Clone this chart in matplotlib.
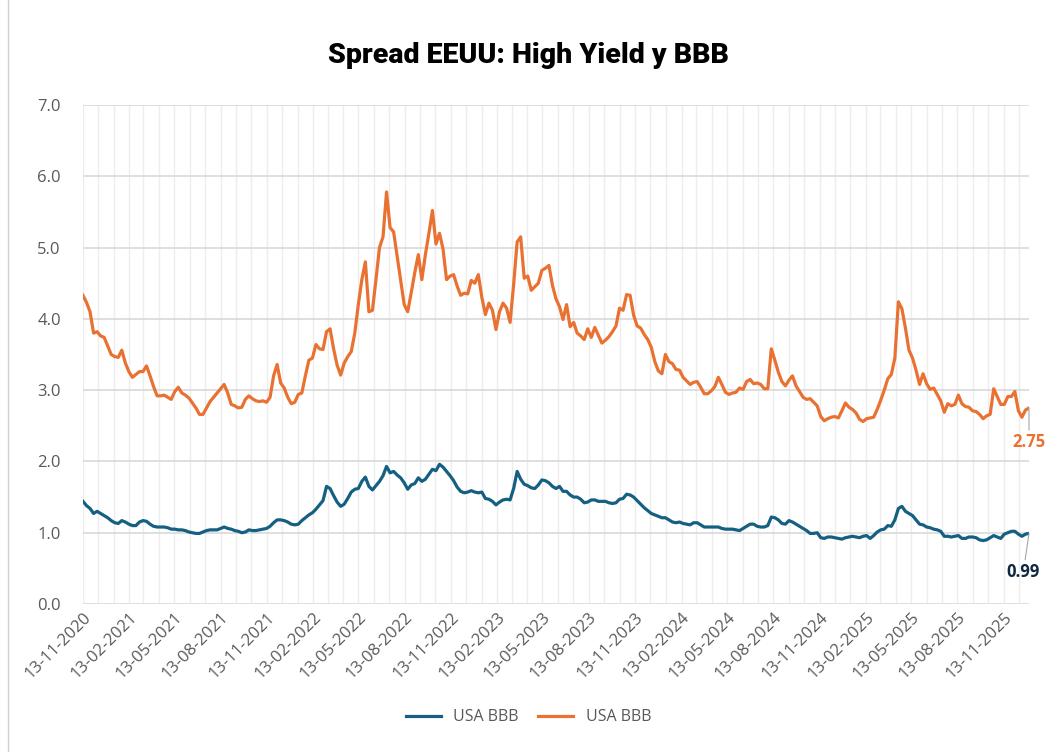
import matplotlib
matplotlib.use("Agg")
import matplotlib.pyplot as plt
import matplotlib.dates as mdates
from matplotlib.lines import Line2D
import pandas as pd

# weekly observations (Fridays), 13-11-2020 .. 02-01-2026
start_date = "2020-11-13"
n_weeks = 269

hy_spread = [
    4.33, 4.23, 4.10, 3.80, 3.82, 3.76, 3.74, 3.62, 3.50, 3.47,
    3.46, 3.56, 3.38, 3.26, 3.18, 3.22, 3.26, 3.26, 3.34, 3.20,
    3.05, 2.92, 2.92, 2.93, 2.90, 2.87, 2.98, 3.04, 2.96, 2.93,
    2.89, 2.82, 2.75, 2.66, 2.66, 2.75, 2.84, 2.90, 2.96, 3.02,
    3.08, 2.96, 2.80, 2.78, 2.75, 2.76, 2.87, 2.92, 2.88, 2.85,
    2.84, 2.85, 2.83, 2.90, 3.20, 3.36, 3.10, 3.03, 2.90, 2.81,
    2.83, 2.94, 2.96, 3.20, 3.42, 3.45, 3.64, 3.58, 3.57, 3.82,
    3.86, 3.58, 3.35, 3.21, 3.38, 3.47, 3.54, 3.80, 4.20, 4.55,
    4.80, 4.10, 4.12, 4.55, 5.00, 5.15, 5.78, 5.28, 5.22, 4.88,
    4.55, 4.20, 4.10, 4.37, 4.65, 4.90, 4.55, 4.90, 5.20, 5.52,
    5.05, 5.20, 4.98, 4.55, 4.60, 4.62, 4.46, 4.33, 4.36, 4.35,
    4.54, 4.50, 4.62, 4.30, 4.06, 4.22, 4.12, 3.85, 4.10, 4.22,
    4.15, 3.95, 4.48, 5.08, 5.15, 4.57, 4.60, 4.40, 4.45, 4.50,
    4.68, 4.71, 4.75, 4.47, 4.28, 4.17, 3.99, 4.20, 3.89, 3.95,
    3.80, 3.76, 3.71, 3.86, 3.74, 3.88, 3.77, 3.66, 3.70, 3.75,
    3.82, 3.90, 4.15, 4.12, 4.34, 4.33, 4.05, 3.90, 3.87, 3.78,
    3.71, 3.60, 3.40, 3.27, 3.23, 3.50, 3.40, 3.37, 3.29, 3.28,
    3.18, 3.13, 3.08, 3.11, 3.12, 3.04, 2.95, 2.95, 2.99, 3.05,
    3.18, 3.08, 2.97, 2.94, 2.96, 2.97, 3.03, 3.01, 3.12, 3.15,
    3.09, 3.10, 3.08, 3.02, 3.02, 3.58, 3.42, 3.25, 3.12, 3.06,
    3.14, 3.20, 3.06, 2.98, 2.90, 2.87, 2.88, 2.83, 2.78, 2.63,
    2.57, 2.60, 2.62, 2.63, 2.61, 2.71, 2.82, 2.76, 2.73, 2.68,
    2.59, 2.56, 2.60, 2.61, 2.62, 2.73, 2.86, 3.00, 3.16, 3.22,
    3.45, 4.24, 4.14, 3.87, 3.56, 3.45, 3.28, 3.08, 3.23, 3.09,
    3.01, 3.03, 2.94, 2.85, 2.69, 2.81, 2.78, 2.80, 2.93, 2.81,
    2.77, 2.76, 2.71, 2.70, 2.66, 2.60, 2.64, 2.66, 3.02, 2.91,
    2.80, 2.80, 2.91, 2.91, 2.98, 2.71, 2.62, 2.72, 2.75,
]

bbb_spread = [
    1.44, 1.38, 1.34, 1.27, 1.30, 1.27, 1.24, 1.21, 1.17, 1.14,
    1.13, 1.17, 1.15, 1.12, 1.10, 1.10, 1.15, 1.17, 1.16, 1.12,
    1.09, 1.08, 1.08, 1.08, 1.07, 1.05, 1.05, 1.04, 1.04, 1.03,
    1.01, 1.00, 0.99, 0.99, 1.01, 1.03, 1.04, 1.04, 1.04, 1.06,
    1.08, 1.06, 1.05, 1.03, 1.02, 1.00, 1.01, 1.04, 1.03, 1.03,
    1.04, 1.05, 1.06, 1.09, 1.14, 1.18, 1.18, 1.17, 1.15, 1.12,
    1.11, 1.12, 1.17, 1.21, 1.25, 1.28, 1.33, 1.39, 1.45, 1.65,
    1.62, 1.52, 1.43, 1.37, 1.40, 1.48, 1.57, 1.61, 1.62, 1.72,
    1.78, 1.65, 1.60, 1.66, 1.72, 1.80, 1.93, 1.84, 1.86, 1.81,
    1.77, 1.70, 1.61, 1.67, 1.69, 1.77, 1.72, 1.75, 1.82, 1.89,
    1.87, 1.96, 1.92, 1.86, 1.80, 1.73, 1.64, 1.58, 1.56, 1.57,
    1.59, 1.57, 1.56, 1.57, 1.48, 1.47, 1.44, 1.39, 1.43, 1.46,
    1.47, 1.46, 1.62, 1.86, 1.75, 1.68, 1.66, 1.63, 1.62, 1.67,
    1.74, 1.73, 1.70, 1.65, 1.62, 1.65, 1.58, 1.58, 1.53, 1.50,
    1.50, 1.47, 1.42, 1.43, 1.46, 1.46, 1.44, 1.44, 1.44, 1.42,
    1.41, 1.42, 1.47, 1.48, 1.54, 1.53, 1.50, 1.45, 1.40, 1.35,
    1.31, 1.27, 1.25, 1.23, 1.21, 1.21, 1.18, 1.15, 1.14, 1.15,
    1.13, 1.12, 1.11, 1.14, 1.14, 1.11, 1.08, 1.08, 1.08, 1.08,
    1.08, 1.06, 1.05, 1.05, 1.05, 1.04, 1.03, 1.06, 1.09, 1.12,
    1.12, 1.09, 1.08, 1.08, 1.10, 1.22, 1.21, 1.18, 1.13, 1.12,
    1.17, 1.15, 1.12, 1.09, 1.06, 1.03, 0.99, 0.99, 1.00, 0.93,
    0.92, 0.94, 0.94, 0.93, 0.92, 0.91, 0.93, 0.94, 0.95, 0.94,
    0.93, 0.95, 0.96, 0.92, 0.96, 1.01, 1.04, 1.05, 1.10, 1.09,
    1.18, 1.34, 1.37, 1.30, 1.27, 1.24, 1.18, 1.12, 1.11, 1.08,
    1.07, 1.05, 1.04, 1.02, 0.95, 0.95, 0.94, 0.95, 0.96, 0.92,
    0.92, 0.94, 0.94, 0.93, 0.90, 0.89, 0.90, 0.93, 0.96, 0.94,
    0.92, 0.98, 1.00, 1.02, 1.02, 0.98, 0.95, 0.98, 0.99,
]

series_labels = ["USA BBB", "USA BBB"]
title = "Spread EEUU: High Yield y BBB"

BLUE = "#156082"
ORANGE = "#E97132"
NAVY = "#0E2841"
GREY_TXT = "#595959"

dates = pd.date_range(start_date, periods=n_weeks, freq="7D")

plt.rcParams["font.family"] = ["Open Sans", "DejaVu Sans"]

fig = plt.figure(figsize=(10.57, 7.52), dpi=100)
ax = fig.add_axes([0.0785, 0.1968, 0.8950, 0.6636])

ax.plot(dates, bbb_spread, color=BLUE, lw=2.3, label=series_labels[0], solid_joinstyle="round")
ax.plot(dates, hy_spread, color=ORANGE, lw=2.3, label=series_labels[1], solid_joinstyle="round")

ax.set_xlim(dates[0], dates[-1])
ax.set_ylim(0, 7)
ax.set_yticks(range(0, 8))
ax.yaxis.set_major_formatter(plt.FuncFormatter(lambda v, _: f"{v:.1f}"))

ax.xaxis.set_major_locator(mdates.MonthLocator(bymonth=[2, 5, 8, 11], bymonthday=13))
ax.xaxis.set_minor_locator(mdates.MonthLocator(bymonthday=13))
ax.xaxis.set_major_formatter(mdates.DateFormatter("%d-%m-%Y"))

ax.grid(axis="y", which="major", color="#d9d9d9", lw=1.2)
ax.grid(axis="x", which="both", color="#ededed", lw=1.0)
ax.set_axisbelow(True)
for s in ax.spines.values():
    s.set_visible(False)
ax.tick_params(which="both", length=0)
ax.tick_params(axis="y", labelsize=12, labelcolor=GREY_TXT, pad=16)
ax.tick_params(axis="x", labelsize=12, labelcolor=GREY_TXT, pad=4)
for lab in ax.get_xticklabels():
    lab.set_rotation(45)
    lab.set_ha("right")
    lab.set_rotation_mode("anchor")

ax.annotate(f"{hy_spread[-1]:.2f}", xy=(dates[-1], hy_spread[-1]), xytext=(0, -18),
            textcoords="offset points", ha="center", va="top", color=ORANGE,
            fontsize=12, fontweight="bold", annotation_clip=False,
            arrowprops=dict(arrowstyle="-", color="#a6a6a6", lw=0.8, shrinkA=0, shrinkB=0))
ax.annotate(f"{bbb_spread[-1]:.2f}", xy=(dates[-1], bbb_spread[-1]), xytext=(-4, -21),
            textcoords="offset points", ha="center", va="top", color=NAVY,
            fontsize=12, fontweight="bold", annotation_clip=False,
            arrowprops=dict(arrowstyle="-", color="#a6a6a6", lw=0.8, shrinkA=0, shrinkB=0))

fig.text(0.5, 0.926, title, ha="center", va="center", fontsize=20.5, fontweight="heavy",
         family=["Roboto", "DejaVu Sans"], color="black")

fig.legend(loc="center", bbox_to_anchor=(0.5, 0.046), ncol=2, frameon=False,
           fontsize=11.5, labelcolor=GREY_TXT, handlelength=2.2, columnspacing=1.2)

fig.add_artist(Line2D([0.008, 0.008], [0, 1], transform=fig.transFigure, color="#d0d0d0", lw=1))

fig.savefig("out.png", dpi=100, facecolor="white")
